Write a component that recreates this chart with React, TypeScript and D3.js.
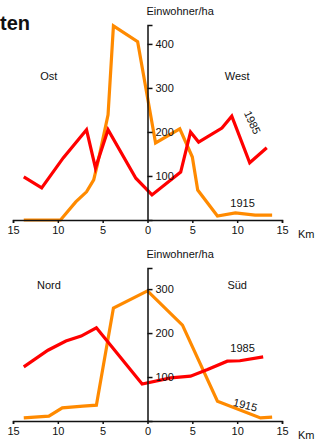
import React, { useEffect, useRef } from "react";
import * as d3 from "d3";

// distance from centre in km (negative = Ost / Nord side)
const ewKm1985 = [-13.8, -11.8, -9.4, -6.8, -5.8, -4.4, -1.3, 0.5, 3.7, 4.8, 5.7, 8.3, 9.4, 11.4, 13.3];
const ewVal1985 = [98, 73, 141, 205, 118, 205, 95, 57, 109, 200, 177, 209, 236, 130, 164];
const ewKm1915 = [-13.8, -9.7, -8, -6.8, -6, -5.6, -4.4, -3.8, -1.1, 0.9, 3.6, 5, 5.6, 7.8, 9.8, 12, 13.9];
const ewVal1915 = [0, 0, 41, 64, 91, 125, 239, 441, 405, 175, 207, 143, 68, 9, 16, 11, 11];

const nsKm1985 = [-13.8, -11.1, -9.1, -7.4, -5.7, -0.6, 2.6, 4.8, 6.7, 8.9, 10.3, 12.9];
const nsVal1985 = [123, 161, 182, 193, 212, 84, 98, 102, 117, 136, 137, 146];
const nsKm1915 = [-13.8, -11, -9.5, -7.2, -5.7, -3.8, 0, 3.9, 7.8, 12.6, 13.9];
const nsVal1915 = [7, 11, 30, 34, 36, 257, 296, 218, 45, 7, 9];

const kmTicks = [-15, -10, -5, 0, 5, 10, 15];
const densTicksTop = [100, 200, 300, 400];
const densTicksBottom = [100, 200, 300];

const RED = "#ff0000";
const ORANGE = "#ff8a00";
const FONT = "Liberation Sans, Arial, sans-serif";

const x = d3.scaleLinear().domain([-15, 15]).range([13, 282]);
const yTop = d3.scaleLinear().domain([0, 443]).range([220, 25]);
const yBot = d3.scaleLinear().domain([0, 348]).range([421, 268]);

const zip = (km: number[], v: number[]) => km.map((k, i) => [k, v[i]] as [number, number]);

const Panel = ({ y, k85, v85, k15, v15, ticks, left, right, sideY, label85, label15 }: any) => {
  const xRef = useRef<SVGGElement>(null);
  const yRef = useRef<SVGGElement>(null);
  const base = y(0);
  const top = y.range()[1];

  useEffect(() => {
    const gx = d3.select(xRef.current);
    gx.selectAll("*").remove();
    gx.call(
      d3.axisBottom(x).tickValues(kmTicks).tickSize(3).tickPadding(3)
        .tickFormat((d: any) => String(Math.abs(d)))
    );
    gx.select(".domain").attr("stroke", "#111").attr("stroke-width", 1.5);
    gx.selectAll(".tick line").attr("stroke", "#111").attr("stroke-width", 1.5);
    gx.selectAll("text").attr("font-size", 11).attr("font-family", FONT).attr("fill", "#111");

    const gy = d3.select(yRef.current);
    gy.selectAll("*").remove();
    gy.call(d3.axisRight(y).tickValues(ticks).tickSize(5).tickPadding(3));
    gy.select(".domain").attr("stroke", "#111").attr("stroke-width", 1.5);
    gy.selectAll(".tick line").attr("stroke", "#111").attr("stroke-width", 1.5);
    gy.selectAll("text").attr("font-size", 11).attr("font-family", FONT).attr("fill", "#111");
  }, []);

  const line = d3.line<[number, number]>().x((d) => x(d[0])).y((d) => y(d[1]));

  return (
    <g>
      <path d={line(zip(k15, v15)) || ""} fill="none" stroke={ORANGE} strokeWidth={3.2} />
      <path d={line(zip(k85, v85)) || ""} fill="none" stroke={RED} strokeWidth={3.2} />
      <g ref={xRef} transform={`translate(0,${base})`} />
      <g ref={yRef} transform={`translate(${x(0)},0)`} />
      <text x={x(0) - 1} y={top - 10} fontSize={11} fontFamily={FONT} fill="#111">Einwohner/ha</text>
      <text x={298} y={base + 18} fontSize={11} fontFamily={FONT} fill="#111">Km</text>
      <text x={x(-11)} y={sideY} textAnchor="middle" fontSize={11} fontFamily={FONT} fill="#111">{left}</text>
      <text x={x(10)} y={sideY} textAnchor="middle" fontSize={11} fontFamily={FONT} fill="#111">{right}</text>
      <text transform={label85.t} fontSize={11} fontFamily={FONT} fill="#111" textAnchor="middle">1985</text>
      <text transform={label15.t} fontSize={11} fontFamily={FONT} fill="#111" textAnchor="middle">1915</text>
    </g>
  );
};

export default function App() {
  return (
    <svg width={315} height={444} style={{ position: "absolute", left: 0, top: 0, background: "#fff" }}>
      <text x={0} y={30} fontSize={20} fontWeight="bold" fontFamily={FONT} fill="#111">
        ten
      </text>
      <Panel
        y={yTop} k85={ewKm1985} v85={ewVal1985} k15={ewKm1915} v15={ewVal1915}
        ticks={densTicksTop} left="Ost" right="West" sideY={80}
        label85={{ t: `translate(${x(11.3)},${yTop(218)}) rotate(65)` }}
        label15={{ t: `translate(${x(10.6)},${yTop(30)})` }}
      />
      <Panel
        y={yBot} k85={nsKm1985} v85={nsVal1985} k15={nsKm1915} v15={nsVal1915}
        ticks={densTicksBottom} left="Nord" right="Süd" sideY={289}
        label85={{ t: `translate(${x(10.6)},${yBot(158)})` }}
        label15={{ t: `translate(${x(10.8)},${yBot(28)}) rotate(14)` }}
      />
    </svg>
  );
}
